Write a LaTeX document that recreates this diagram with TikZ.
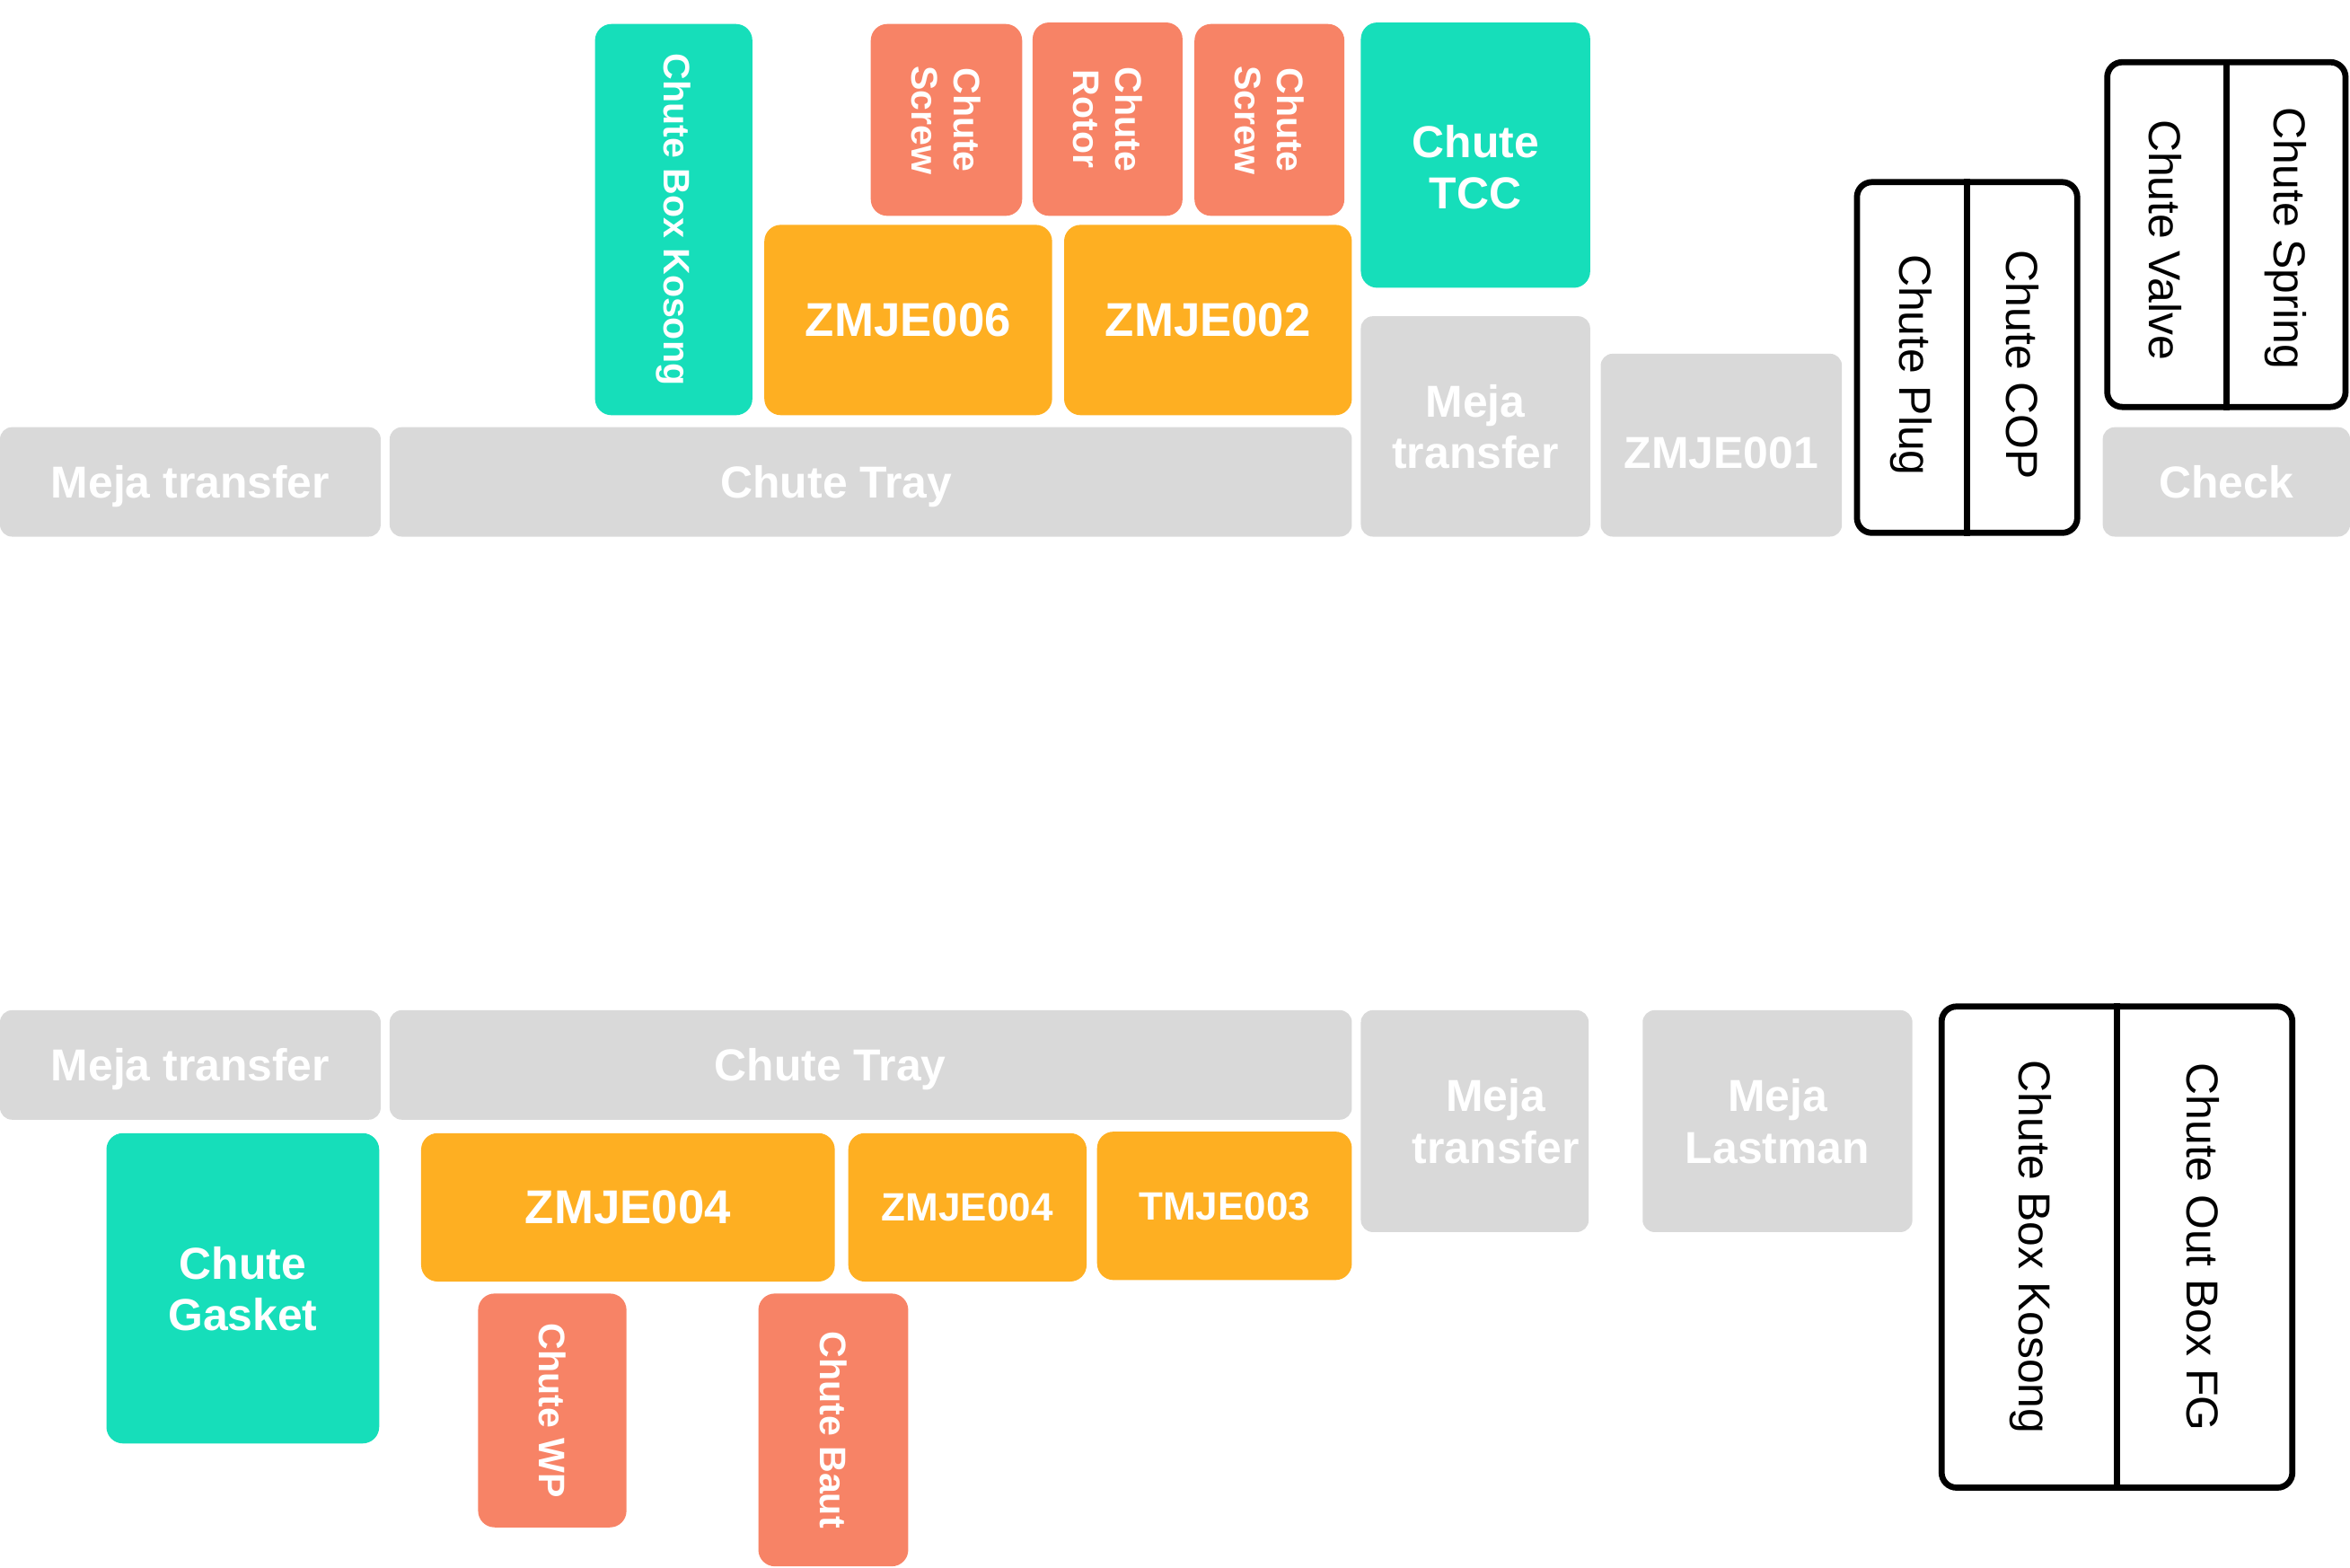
\documentclass[tikz,border=0pt]{standalone}
\usepackage{fontspec}
\setmainfont{Liberation Sans}
\definecolor{cgrey}{HTML}{D9D9D9}
\definecolor{cteal}{HTML}{16DEBA}
\definecolor{corange}{HTML}{FEAF22}
\definecolor{csalmon}{HTML}{F78366}
\begin{document}
\begin{tikzpicture}[
  tile/.style={rectangle, inner sep=0pt, text=white, align=center, rounded corners=0.22cm,
    text depth=0pt, font=\fontsize{17}{19.5}\selectfont\bfseries},
  meja/.style={tile, fill=cgrey, rounded corners=0.16cm},
  chute/.style={tile, fill=cteal},
  mesin/.style={tile, fill=corange},
  kecil/.style={tile, fill=csalmon, font=\fontsize{14}{16}\selectfont\bfseries},
  rak/.style={rectangle, draw=black, line width=2.3pt, rounded corners=0.2cm, inner sep=0pt},
  rakteks/.style={rotate=-90, inner sep=0pt, font=\fontsize{17}{19.5}\selectfont},
  turun/.style={rotate=-90},
  tulis/.style={text=white, inner sep=0pt, text depth=0pt, font=\fontsize{17}{19.5}\selectfont\bfseries}
]
\useasboundingbox (0,0) rectangle (31.36,-20.92);

\node [meja, minimum width=5.08cm, minimum height=1.46cm] (mejaA) at (2.54,-6.43) {Meja transfer};
\node [meja, minimum width=12.84cm, minimum height=1.46cm] (trayA) at (11.62,-6.43) {};
\node [tulis] (trayAt) at ([xshift=-0.46cm]trayA.center) {Chute Tray};
\node [chute, minimum width=2.10cm, minimum height=5.22cm] (kosongA) at (8.99,-2.93) {};
\node [turun, text=white, font=\fontsize{14}{16}\selectfont\bfseries] (kosongAt) at (kosongA.center) {Chute Box Kosong};
\node [kecil, minimum width=2.02cm, minimum height=2.56cm] (screwA) at (12.63,-1.60) {};
\node [kecil, turun] (screwAt) at (screwA.center) {Chute\\Screw};
\node [kecil, minimum width=2.00cm, minimum height=2.58cm] (rotor) at (14.78,-1.59) {};
\node [kecil, turun] (rotort) at (rotor.center) {Chute\\Rotor};
\node [kecil, minimum width=2.00cm, minimum height=2.56cm] (screwB) at (16.94,-1.60) {};
\node [kecil, turun] (screwBt) at (screwB.center) {Chute\\Screw};
\node [mesin, minimum width=3.84cm, minimum height=2.54cm, font=\fontsize{18}{20}\selectfont\bfseries] (zm6) at (12.12,-4.27) {ZMJE006};
\node [mesin, minimum width=3.84cm, minimum height=2.54cm, font=\fontsize{18}{20}\selectfont\bfseries] (zm2) at (16.12,-4.27) {ZMJE002};
\node [chute, minimum width=3.06cm, minimum height=3.54cm] (tcc) at (19.69,-2.07) {};
\node [tulis, align=center] (tcct) at ([yshift=-0.16cm]tcc.center) {Chute\\TCC};
\node [meja, minimum width=3.06cm, minimum height=2.94cm] (mejaB) at (19.69,-5.69) {Meja\\transfer};
\node [meja, minimum width=3.22cm, minimum height=2.44cm] (zm1) at (22.97,-5.94) {};
\node [tulis] (zm1t) at ([yshift=-0.1cm]zm1.center) {ZMJE001};
\node [rak, minimum width=2.94cm, minimum height=4.68cm] (rakA) at (26.25,-4.77) {};
\draw [line width=2.3pt] (rakA.north) -- (rakA.south);
\node [rakteks] (plug) at (25.51,-4.87) {Chute Plug};
\node [rakteks] (cop) at (26.99,-4.87) {Chute COP};
\node [rak, minimum width=3.18cm, minimum height=4.60cm] (rakB) at (29.71,-3.13) {};
\draw [line width=2.3pt] (rakB.north) -- (rakB.south);
\node [rakteks] (valve) at (28.90,-3.20) {Chute Valve};
\node [rakteks] (spring) at (30.50,-3.18) {Chute Spring};
\node [meja, minimum width=3.30cm, minimum height=1.46cm] (check) at (29.71,-6.43) {Check};

\node [meja, minimum width=5.08cm, minimum height=1.46cm] (mejaC) at (2.54,-14.21) {Meja transfer};
\node [meja, minimum width=12.84cm, minimum height=1.46cm] (trayB) at (11.62,-14.21) {};
\node [tulis] (trayBt) at ([xshift=-0.54cm]trayB.center) {Chute Tray};
\node [chute, minimum width=3.64cm, minimum height=4.14cm] (gasket) at (3.24,-17.19) {Chute\\Gasket};
\node [mesin, minimum width=5.52cm, minimum height=1.98cm, font=\fontsize{18}{20}\selectfont\bfseries] (zm4a) at (8.38,-16.11) {ZMJE004};
\node [mesin, minimum width=3.18cm, minimum height=1.98cm, font=\fontsize{15}{17}\selectfont\bfseries] (zm4b) at (12.91,-16.11) {ZMJE004};
\node [mesin, minimum width=3.40cm, minimum height=1.98cm, font=\fontsize{15}{17}\selectfont\bfseries] (tm3) at (16.34,-16.09) {TMJE003};
\node [kecil, minimum width=1.98cm, minimum height=3.12cm] (wp) at (7.37,-18.82) {};
\node [kecil, turun] (wpt) at (wp.center) {Chute WP};
\node [kecil, minimum width=2.00cm, minimum height=3.64cm] (baut) at (11.12,-19.08) {};
\node [kecil, turun] (bautt) at (baut.center) {Chute Baut};
\node [meja, minimum width=3.04cm, minimum height=2.96cm] (mejaD) at (19.68,-14.96) {};
\node [tulis, align=center] (mejaDt) at ([xshift=0.28cm]mejaD.center) {Meja\\transfer};
\node [meja, minimum width=3.60cm, minimum height=2.96cm] (lastman) at (23.72,-14.96) {Meja\\Lastman};
\node [rak, minimum width=4.68cm, minimum height=6.42cm] (rakC) at (28.25,-16.64) {};
\draw [line width=2.3pt] (rakC.north) -- (rakC.south);
\node [rakteks] (kosongC) at (27.10,-16.64) {Chute Box Kosong};
\node [rakteks] (outfg) at (29.40,-16.64) {Chute Out Box FG};
\end{tikzpicture}
\end{document}
